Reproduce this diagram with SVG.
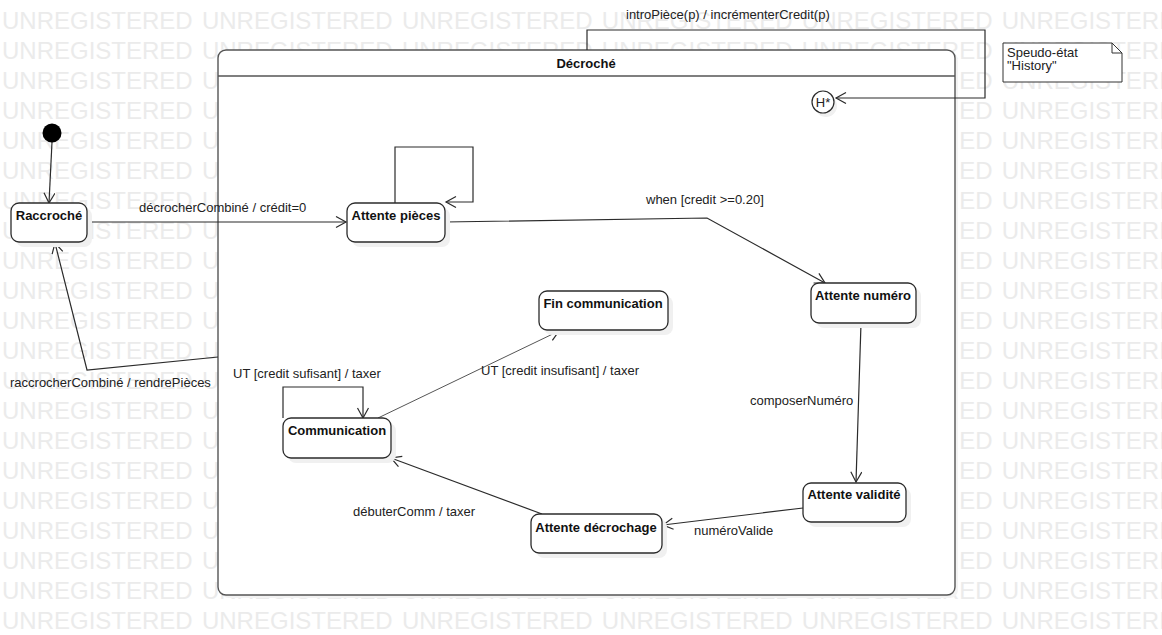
<svg xmlns="http://www.w3.org/2000/svg" width="1162" height="635" viewBox="0 0 1162 635">
  <style>
    .wm { font-family: "Liberation Sans", Arial, sans-serif; font-size: 24px; fill: #ebebeb; word-spacing: 2.6px; }
    .state { fill: #ffffff; stroke: #2b2b2b; stroke-width: 1.3; }
    .shadow { fill: #f0f0f0; stroke: none; }
    .name { font-family: "Liberation Sans", Arial, sans-serif; font-size: 13px; font-weight: bold; fill: #111; text-anchor: middle; }
    .lbl { font-family: "Liberation Sans", Arial, sans-serif; font-size: 13px; fill: #222; }
    .edge { fill: none; stroke: #2b2b2b; stroke-width: 1.2; }
    .edge-light { fill: none; stroke: #555; stroke-width: 1; }
  </style>
  <defs>
    <marker id="open" markerUnits="userSpaceOnUse" markerWidth="14" markerHeight="14" refX="11" refY="6" orient="auto">
      <path d="M1,0.5 L11,6 L1,11.5" fill="none" stroke="#2b2b2b" stroke-width="1.2"/>
    </marker>
  </defs>

  <rect width="1162" height="635" fill="#ffffff"/>

  <!-- background watermark rows -->
  <g id="watermark">
    <text class="wm" x="2" y="29">UNREGISTERED UNREGISTERED UNREGISTERED UNREGISTERED UNREGISTERED UNREGISTERED</text>
    <text class="wm" x="2" y="59">UNREGISTERED UNREGISTERED UNREGISTERED UNREGISTERED UNREGISTERED UNREGISTERED</text>
    <text class="wm" x="2" y="89">UNREGISTERED UNREGISTERED UNREGISTERED UNREGISTERED UNREGISTERED UNREGISTERED</text>
    <text class="wm" x="2" y="119">UNREGISTERED UNREGISTERED UNREGISTERED UNREGISTERED UNREGISTERED UNREGISTERED</text>
    <text class="wm" x="2" y="149">UNREGISTERED UNREGISTERED UNREGISTERED UNREGISTERED UNREGISTERED UNREGISTERED</text>
    <text class="wm" x="2" y="179">UNREGISTERED UNREGISTERED UNREGISTERED UNREGISTERED UNREGISTERED UNREGISTERED</text>
    <text class="wm" x="2" y="209">UNREGISTERED UNREGISTERED UNREGISTERED UNREGISTERED UNREGISTERED UNREGISTERED</text>
    <text class="wm" x="2" y="239">UNREGISTERED UNREGISTERED UNREGISTERED UNREGISTERED UNREGISTERED UNREGISTERED</text>
    <text class="wm" x="2" y="269">UNREGISTERED UNREGISTERED UNREGISTERED UNREGISTERED UNREGISTERED UNREGISTERED</text>
    <text class="wm" x="2" y="299">UNREGISTERED UNREGISTERED UNREGISTERED UNREGISTERED UNREGISTERED UNREGISTERED</text>
    <text class="wm" x="2" y="329">UNREGISTERED UNREGISTERED UNREGISTERED UNREGISTERED UNREGISTERED UNREGISTERED</text>
    <text class="wm" x="2" y="359">UNREGISTERED UNREGISTERED UNREGISTERED UNREGISTERED UNREGISTERED UNREGISTERED</text>
    <text class="wm" x="2" y="389">UNREGISTERED UNREGISTERED UNREGISTERED UNREGISTERED UNREGISTERED UNREGISTERED</text>
    <text class="wm" x="2" y="419">UNREGISTERED UNREGISTERED UNREGISTERED UNREGISTERED UNREGISTERED UNREGISTERED</text>
    <text class="wm" x="2" y="449">UNREGISTERED UNREGISTERED UNREGISTERED UNREGISTERED UNREGISTERED UNREGISTERED</text>
    <text class="wm" x="2" y="479">UNREGISTERED UNREGISTERED UNREGISTERED UNREGISTERED UNREGISTERED UNREGISTERED</text>
    <text class="wm" x="2" y="509">UNREGISTERED UNREGISTERED UNREGISTERED UNREGISTERED UNREGISTERED UNREGISTERED</text>
    <text class="wm" x="2" y="539">UNREGISTERED UNREGISTERED UNREGISTERED UNREGISTERED UNREGISTERED UNREGISTERED</text>
    <text class="wm" x="2" y="569">UNREGISTERED UNREGISTERED UNREGISTERED UNREGISTERED UNREGISTERED UNREGISTERED</text>
    <text class="wm" x="2" y="599">UNREGISTERED UNREGISTERED UNREGISTERED UNREGISTERED UNREGISTERED UNREGISTERED</text>
    <text class="wm" x="2" y="629">UNREGISTERED UNREGISTERED UNREGISTERED UNREGISTERED UNREGISTERED UNREGISTERED</text>
  </g>

  <!-- composite state -->
  <g id="decroche">
    <rect x="221" y="53" width="737" height="545" rx="8" fill="#f3f3f3"/>
    <rect x="218" y="50" width="737" height="545" rx="8" fill="#ffffff" stroke="#555" stroke-width="1.4"/>
    <line x1="218" y1="76" x2="955" y2="76" stroke="#555" stroke-width="1.4"/>
    <text class="name" x="586" y="68">Décroché</text>
  </g>

  <!-- note -->
  <g id="note-history">
    <path d="M1003,43 H1112 L1122,53 V82 H1003 Z" fill="#ffffff" stroke="#333" stroke-width="1"/>
    <path d="M1112,43 V53 H1122" fill="none" stroke="#333" stroke-width="1"/>
    <text class="lbl" x="1007" y="57">Speudo-état</text>
    <text class="lbl" x="1007" y="70">"History"</text>
  </g>

  <!-- connectors -->
  <g id="connectors">
    <path class="edge" d="M587,50 V30 H985 V98 H836" marker-end="url(#open)"/>
    <path class="edge" d="M52,142 L49,203" marker-end="url(#open)"/>
    <path class="edge" d="M87,222 H346" marker-end="url(#open)"/>
    <path class="edge" d="M395,203 V147 H473 V202 H446" marker-end="url(#open)"/>
    <path class="edge" d="M445,222 L707,218 L825,283" marker-end="url(#open)"/>
    <path class="edge" d="M861,323 L856,482" marker-end="url(#open)"/>
    <path class="edge" d="M803,508 L663,525" marker-end="url(#open)"/>
    <path class="edge" d="M542,514 L391,458" marker-end="url(#open)"/>
    <path class="edge-light" d="M378,418 L559,331" marker-end="url(#open)"/>
    <path class="edge" d="M283,418 V387 H363 V418" marker-end="url(#open)"/>
    <path class="edge" d="M218,357 L87,370 L55,243" marker-end="url(#open)"/>

    <text class="lbl" x="626" y="19">introPièce(p) / incrémenterCredit(p)</text>
    <text class="lbl" x="139" y="212">décrocherCombiné / crédit=0</text>
    <text class="lbl" x="646" y="204">when [credit &gt;=0.20]</text>
    <text class="lbl" x="750" y="405">composerNuméro</text>
    <text class="lbl" x="694" y="535">numéroValide</text>
    <text class="lbl" x="353" y="516">débuterComm / taxer</text>
    <text class="lbl" x="481" y="375">UT [credit insufisant] / taxer</text>
    <text class="lbl" x="233" y="378">UT [credit sufisant] / taxer</text>
    <text class="lbl" x="10" y="387">raccrocherCombiné / rendrePièces</text>
  </g>

  <!-- states -->
  <g id="initial">
    <circle cx="52" cy="133" r="9.5" fill="#000"/>
  </g>

  <g id="history">
    <circle cx="826" cy="106" r="11" class="shadow"/>
    <circle cx="823" cy="102" r="11" fill="#fff" stroke="#2b2b2b" stroke-width="1.2"/>
    <text class="lbl" x="823" y="107" text-anchor="middle">H*</text>
  </g>

  <g id="raccroche">
    <rect class="shadow" x="16" y="208" width="76" height="39" rx="8"/>
    <rect class="state" x="11" y="203" width="76" height="39" rx="8"/>
    <text class="name" x="49" y="220">Raccroché</text>
  </g>

  <g id="attente-pieces">
    <rect class="shadow" x="352" y="208" width="98" height="39" rx="8"/>
    <rect class="state" x="347" y="203" width="98" height="39" rx="8"/>
    <text class="name" x="396" y="220">Attente pièces</text>
  </g>

  <g id="attente-numero">
    <rect class="shadow" x="816" y="288" width="105" height="40" rx="8"/>
    <rect class="state" x="811" y="283" width="105" height="40" rx="8"/>
    <text class="name" x="863" y="300">Attente numéro</text>
  </g>

  <g id="fin-communication">
    <rect class="shadow" x="544" y="296" width="129" height="39" rx="8"/>
    <rect class="state" x="539" y="291" width="129" height="39" rx="8"/>
    <text class="name" x="603" y="308">Fin communication</text>
  </g>

  <g id="communication">
    <rect class="shadow" x="288" y="423" width="108" height="40" rx="8"/>
    <rect class="state" x="283" y="418" width="108" height="40" rx="8"/>
    <text class="name" x="337" y="435">Communication</text>
  </g>

  <g id="attente-validite">
    <rect class="shadow" x="808" y="488" width="103" height="39" rx="8"/>
    <rect class="state" x="803" y="483" width="103" height="39" rx="8"/>
    <text class="name" x="854" y="499">Attente validité</text>
  </g>

  <g id="attente-decrochage">
    <rect class="shadow" x="536" y="519" width="131" height="39" rx="8"/>
    <rect class="state" x="531" y="514" width="131" height="39" rx="8"/>
    <text class="name" x="596" y="532">Attente décrochage</text>
  </g>
</svg>
